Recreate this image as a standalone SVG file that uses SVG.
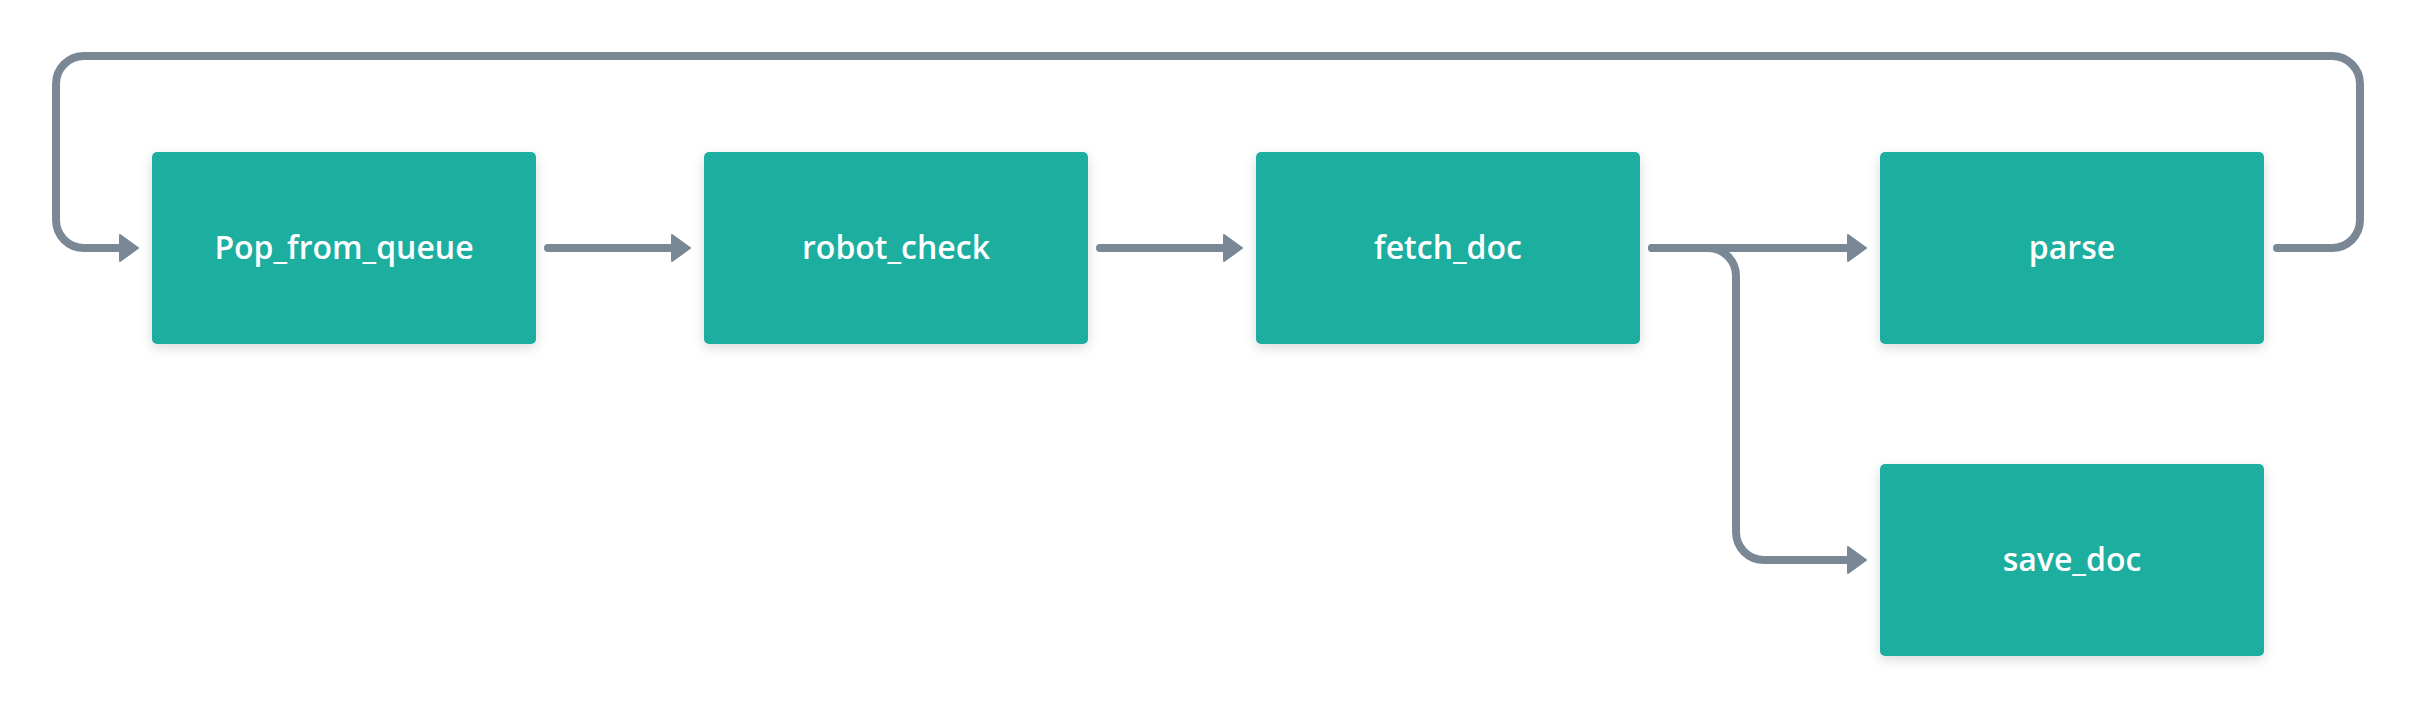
<svg xmlns="http://www.w3.org/2000/svg" width="2416" height="704" viewBox="0 0 2416 704">
  <style>
    .box { fill: #1bae9f; filter: url(#sh); }
    .lbl { fill: #ffffff; font-family: "Open Sans", "Noto Sans", "Liberation Sans", sans-serif; font-weight: 600; font-size: 32px; text-anchor: middle; }
    .edge { fill: none; stroke: #7a8896; stroke-width: 8; stroke-linecap: round; stroke-linejoin: round; }
  </style>
  <defs>
    <filter id="sh" x="-10%" y="-10%" width="120%" height="130%">
      <feDropShadow dx="0" dy="4" stdDeviation="6" flood-color="#000000" flood-opacity="0.14"/>
    </filter>
    <marker id="ah" markerUnits="userSpaceOnUse" markerWidth="24" markerHeight="32" viewBox="-2 -2 24 30" refX="2" refY="13" orient="auto">
      <path d="M0,0 L18,13 L0,26 Z" fill="#7a8896" stroke="#7a8896" stroke-width="2" stroke-linejoin="round"/>
    </marker>
  </defs>
  <rect width="2416" height="704" fill="#ffffff"/>

  <g id="connectors">
    <path class="edge" marker-end="url(#ah)" d="M2277 248 H2332 A28 28 0 0 0 2360 220 V84 A28 28 0 0 0 2332 56 H84 A28 28 0 0 0 56 84 V220 A28 28 0 0 0 84 248 H122"/>
    <path class="edge" marker-end="url(#ah)" d="M548 248 H674"/>
    <path class="edge" marker-end="url(#ah)" d="M1100 248 H1226"/>
    <path class="edge" marker-end="url(#ah)" d="M1652 248 H1850"/>
    <path class="edge" marker-end="url(#ah)" d="M1652 248 H1708 A28 28 0 0 1 1736 276 V532 A28 28 0 0 0 1764 560 H1850"/>
  </g>

  <g id="node-pop_from_queue">
    <rect class="box" x="152" y="152" width="384" height="192" rx="5"/>
    <text class="lbl" x="344" y="259">Pop_from_queue</text>
  </g>
  <g id="node-robot_check">
    <rect class="box" x="704" y="152" width="384" height="192" rx="5"/>
    <text class="lbl" x="896" y="259">robot_check</text>
  </g>
  <g id="node-fetch_doc">
    <rect class="box" x="1256" y="152" width="384" height="192" rx="5"/>
    <text class="lbl" x="1448" y="259">fetch_doc</text>
  </g>
  <g id="node-parse">
    <rect class="box" x="1880" y="152" width="384" height="192" rx="5"/>
    <text class="lbl" x="2072" y="259">parse</text>
  </g>
  <g id="node-save_doc">
    <rect class="box" x="1880" y="464" width="384" height="192" rx="5"/>
    <text class="lbl" x="2072" y="571">save_doc</text>
  </g>
</svg>
